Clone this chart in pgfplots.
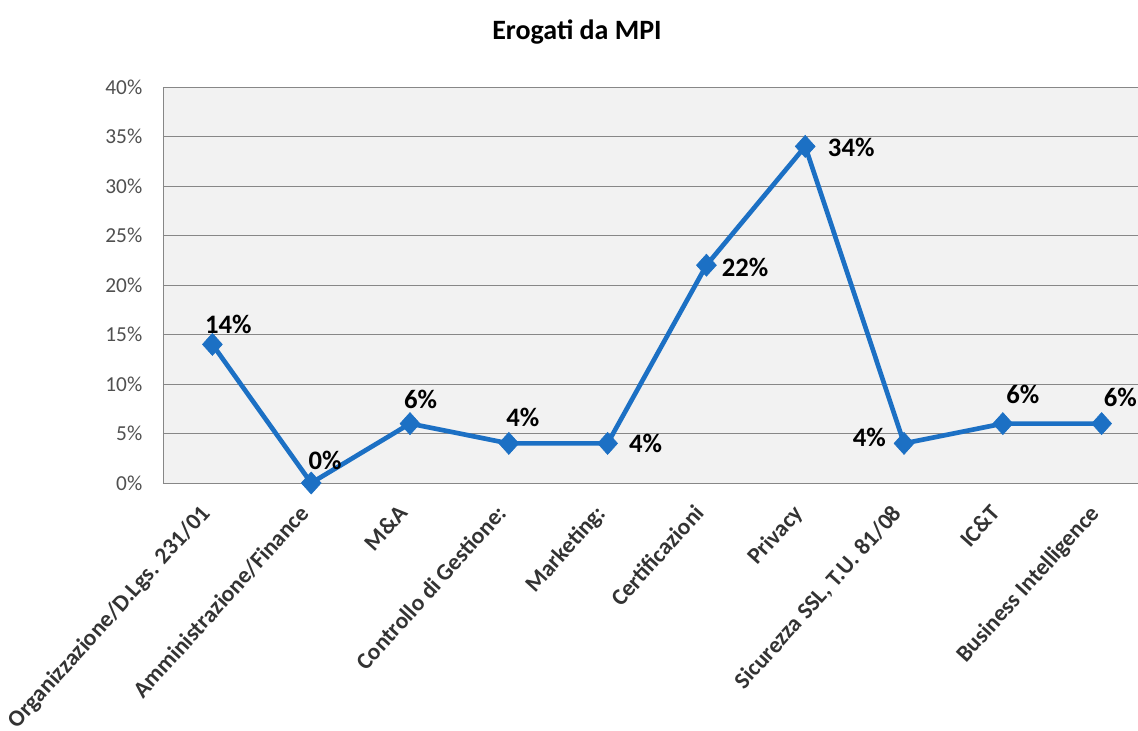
\documentclass[border=0pt]{standalone}
\usepackage{pgfplots}
\usepackage{pgfplotstable}
\pgfplotsset{compat=1.18}
\usepackage{fontspec}
\setmainfont{Carlito}
\definecolor{lineblue}{RGB}{28,112,196}
\definecolor{plotbg}{RGB}{242,242,242}
\definecolor{gridc}{RGB}{135,135,135}
\definecolor{ticktext}{RGB}{80,80,80}
\pgfplotstableread{
x y dx dy
0 14 12 15
1 0 10.5 17
2 6 8 18
3 4 10.5 19.5
4 4 28.5 0
5 22 29 -1.5
6 34 34.5 -1
7 4 -26 4.5
8 6 15 22
9 6 14 19.5
}\datatable
\begin{document}
\begin{tikzpicture}
\useasboundingbox (-122.25pt,-186pt) rectangle (731.25pt,362.25pt);
\begin{axis}[
  at={(0,0)}, anchor=south west,
  scale only axis, width=731.25pt, height=297pt,
  xmin=-0.5, xmax=9.368, ymin=0, ymax=40,
  axis x line*=bottom, axis y line*=left,
  axis line style={-, draw=gridc},
  axis background/.style={fill=plotbg},
  ytick={0,5,...,40},
  ymajorgrids, grid style={gridc, line width=0.6pt},
  major tick length=0pt,
  /pgf/number format/assume math mode=true,
  yticklabel={\pgfmathprintnumber{\tick}\%},
  yticklabel style={font=\fontsize{16}{17}\selectfont, text=ticktext, xshift=-12pt},
  xtick={0,...,9},
  xticklabels={Organizzazione/D.Lgs. 231/01, Amministrazione/Finance, M\&A, Controllo di Gestione:, Marketing:, Certificazioni, Privacy, {Sicurezza SSL, T.U. 81/08}, IC\&T, Business Intelligence},
  xticklabel style={xshift=-10pt, yshift=-15pt, rotate=48, anchor=north east, font=\bfseries\fontsize{17.5}{18}\selectfont, text=black!80, inner sep=0pt},
  clip=false,
]
\addplot[color=lineblue, line width=3.5pt, mark=diamond*, mark size=8.25pt,
  mark options={fill=lineblue, draw=lineblue, line width=0.5pt, xscale=1.2},
  visualization depends on={\thisrow{dx} \as \dx},
  visualization depends on={\thisrow{dy} \as \dy},
  point meta=explicit,
  nodes near coords={\pgfmathprintnumber{\pgfplotspointmeta}\%},
  nodes near coords style={anchor=center, xshift=\dx pt, yshift=\dy pt, font=\bfseries\fontsize{20}{21}\selectfont, text=black},
] table[x=x, y=y, meta=y] {\datatable};
\end{axis}
\node[font=\bfseries\fontsize{21}{22}\selectfont] at (310.5pt,338.25pt) {Erogati da MPI};
\end{tikzpicture}
\end{document}
